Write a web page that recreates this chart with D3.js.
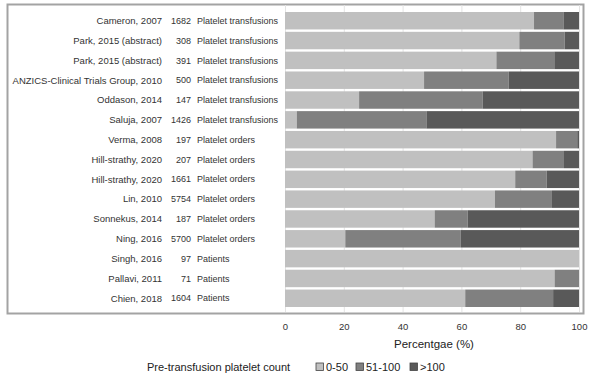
<!DOCTYPE html>
<meta charset="utf-8">
<style>
body { margin: 0; background: #fff; }
text { font-family: "Liberation Sans", Arial, sans-serif; fill: #333; }
</style>
<svg width="590" height="378"></svg>
<script src="https://cdn.jsdelivr.net/npm/d3@7/dist/d3.min.js"></script>
<script>
// study rows, top to bottom
var studies = ["Cameron, 2007", "Park, 2015 (abstract)", "Park, 2015 (abstract)",
  "ANZICS-Clinical Trials Group, 2010", "Oddason, 2014", "Saluja, 2007", "Verma, 2008",
  "Hill-strathy, 2020", "Hill-strathy, 2020", "Lin, 2010", "Sonnekus, 2014", "Ning, 2016",
  "Singh, 2016", "Pallavi, 2011", "Chien, 2018"];
var counts = [1682, 308, 391, 500, 147, 1426, 197, 207, 1661, 5754, 187, 5700, 97, 71, 1604];
var units = ["Platelet transfusions", "Platelet transfusions", "Platelet transfusions",
  "Platelet transfusions", "Platelet transfusions", "Platelet transfusions",
  "Platelet orders", "Platelet orders", "Platelet orders", "Platelet orders",
  "Platelet orders", "Platelet orders", "Patients", "Patients", "Patients"];

// percentage in each platelet count group
var low  = [84.7, 79.7, 71.9, 47.3, 25.2, 4.0, 92.2, 84.2, 78.3, 71.4, 50.9, 20.5, 100, 91.7, 61.3];
var mid  = [10.0, 15.4, 19.7, 28.8, 42.0, 44.1, 7.2, 10.7, 10.7, 19.4, 11.2, 39.3, 0, 8.3, 29.9];
var high = [5.3, 4.9, 8.4, 23.9, 32.8, 51.9, 0.6, 5.1, 11.0, 9.2, 37.9, 40.2, 0, 0, 8.8];

var groups = ["0-50", "51-100", ">100"];
var ticks = [0, 20, 40, 60, 80, 100];

var svg = d3.select("svg");

var rows = studies.map(function(s, i) {
  return {i: i, "0-50": low[i], "51-100": mid[i], ">100": high[i]};
});

var x = d3.scaleLinear().domain([0, 100]).range([285, 579]);
var y = d3.scaleBand().domain(d3.range(studies.length)).range([12, 307]).paddingInner(0.12);
var color = d3.scaleOrdinal().domain(groups).range(["#c0c0c0", "#808080", "#595959"]);

// frame
svg.append("rect")
    .attr("x", 7.5).attr("y", 4.5)
    .attr("width", 576).attr("height", 309)
    .attr("fill", "none")
    .attr("stroke", "#a3a3a3")
    .attr("stroke-width", 2);

// gridlines
svg.append("g").selectAll("line")
    .data(ticks)
    .enter().append("line")
      .attr("x1", function(d) { return x(d) + 0.5; })
      .attr("x2", function(d) { return x(d) + 0.5; })
      .attr("y1", 5).attr("y2", 312)
      .attr("stroke", "#e4e4e4");

// stacked bars
var series = d3.stack().keys(groups)(rows);

svg.append("g").selectAll("g")
    .data(series)
    .enter().append("g")
      .attr("fill", function(d) { return color(d.key); })
    .selectAll("rect")
    .data(function(d) { return d; })
    .enter().append("rect")
      .attr("x", function(d) { return x(d[0]); })
      .attr("width", function(d) { return x(d[1]) - x(d[0]); })
      .attr("y", function(d) { return y(d.data.i); })
      .attr("height", y.bandwidth());

// row labels
var lab = svg.append("g").style("font-size", "9px");
lab.selectAll(".study")
    .data(studies)
    .enter().append("text")
      .attr("x", 162)
      .attr("y", function(d, i) { return y(i) + y.bandwidth() / 2; })
      .attr("dy", "0.35em")
      .attr("text-anchor", "end")
      .style("font-size", "9.5px")
      .text(function(d) { return d; });
lab.selectAll(".count")
    .data(counts)
    .enter().append("text")
      .attr("x", 191)
      .attr("y", function(d, i) { return y(i) + y.bandwidth() / 2; })
      .attr("dy", "0.35em")
      .attr("text-anchor", "end")
      .text(function(d) { return d; });
lab.selectAll(".unit")
    .data(units)
    .enter().append("text")
      .attr("x", 197)
      .attr("y", function(d, i) { return y(i) + y.bandwidth() / 2; })
      .attr("dy", "0.35em")
      .text(function(d) { return d; });

// x axis
var axis = svg.append("g")
    .attr("transform", "translate(0,318)")
    .call(d3.axisBottom(x).tickValues(ticks).tickSize(0).tickPadding(5));
axis.select(".domain").remove();
axis.selectAll("text")
    .style("font-size", "9.5px")
    .style("font-family", "Liberation Sans, Arial, sans-serif")
    .attr("fill", "#444");

svg.append("text")
    .attr("x", 434)
    .attr("y", 344)
    .attr("dy", "0.35em")
    .attr("text-anchor", "middle")
    .style("font-size", "11.5px")
    .style("fill", "#222")
    .text("Percentgae (%)");

// legend
var legend = svg.append("g").style("font-size", "11px");
legend.append("text")
    .attr("x", 147).attr("y", 367).attr("dy", "0.35em")
    .style("fill", "#222")
    .text("Pre-transfusion platelet count");

var lx = [316, 356, 410];
var item = legend.selectAll(".item")
    .data(groups)
    .enter().append("g")
      .attr("transform", function(d, i) { return "translate(" + lx[i] + ",363)"; });
item.append("rect")
    .attr("width", 7.5).attr("height", 7.5)
    .attr("fill", function(d) { return color(d); })
    .attr("stroke", "#444")
    .attr("stroke-width", 0.8);
item.append("text")
    .attr("x", 10).attr("y", 4).attr("dy", "0.35em")
    .style("fill", "#222")
    .text(function(d) { return d; });
</script>
